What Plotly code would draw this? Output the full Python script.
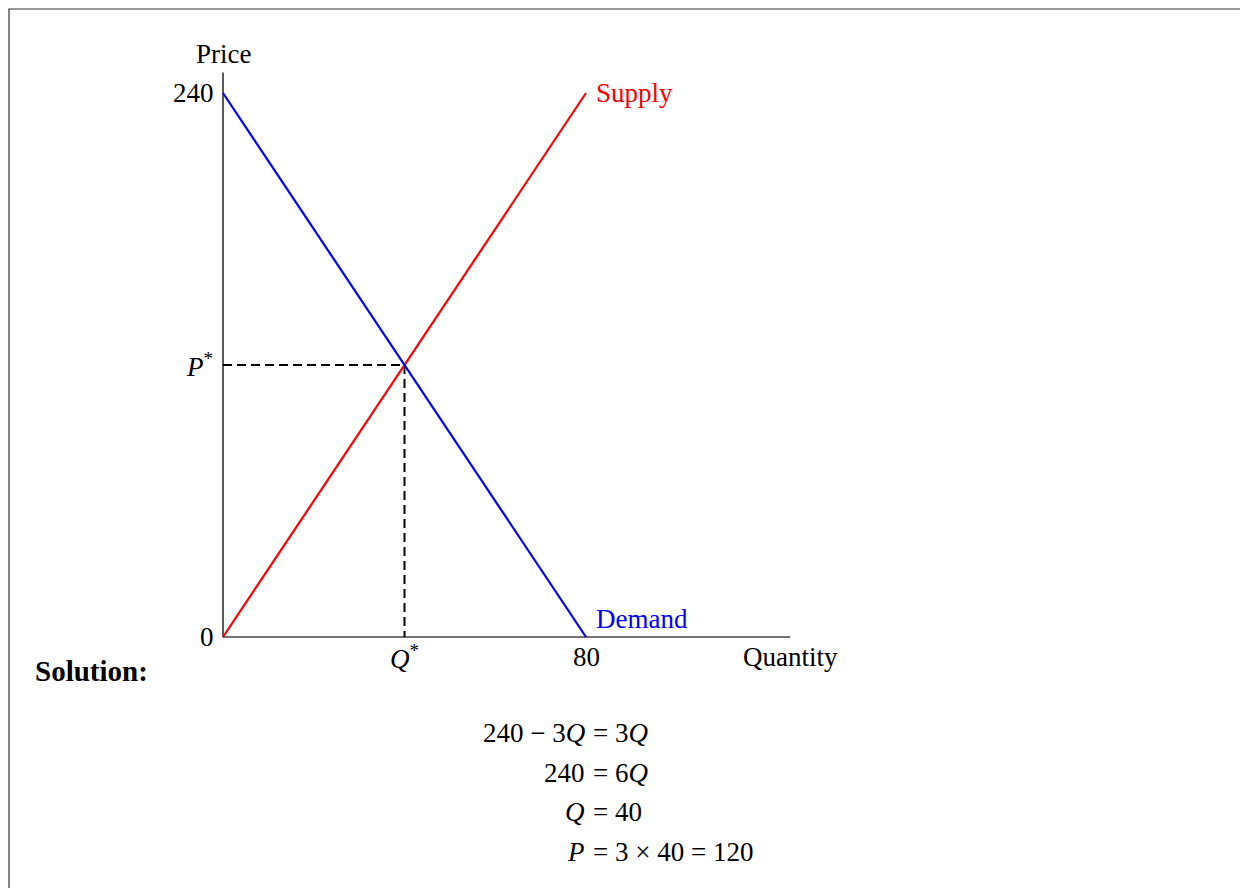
import plotly.graph_objects as go

# supply / demand lines
quantity = [0, 80]
supply_price = [0, 240]
demand_price = [240, 0]

# equilibrium
q_star = 40
p_star = 120

# axis extents
q_axis_max = 125
p_axis_max = 249

W, H = 1248, 888
OFF = 8  # the page body has an 8px margin, so shift everything up/left by that
# pixel of origin and scale
ox, oy = 223 - OFF, 637 - OFF
sx = 363 / 80.0
sy = 544 / 240.0

FONT = "Liberation Serif"
FS = 27

fig = go.Figure()

fig.add_trace(go.Scatter(x=[0, 0], y=[0, p_axis_max], mode="lines",
                         line=dict(color="black", width=1.3), hoverinfo="skip"))
fig.add_trace(go.Scatter(x=[0, q_axis_max], y=[0, 0], mode="lines",
                         line=dict(color="#444444", width=1.3), hoverinfo="skip"))

fig.add_trace(go.Scatter(x=[0, q_star], y=[p_star, p_star], mode="lines",
                         line=dict(color="black", width=2, dash="9px,5px"), hoverinfo="skip"))
fig.add_trace(go.Scatter(x=[q_star, q_star], y=[p_star, 0], mode="lines",
                         line=dict(color="black", width=2, dash="9px,5px"), hoverinfo="skip"))

fig.add_trace(go.Scatter(x=quantity, y=supply_price, mode="lines", name="Supply",
                         line=dict(color="red", width=2.2)))
fig.add_trace(go.Scatter(x=quantity, y=demand_price, mode="lines", name="Demand",
                         line=dict(color="blue", width=2.2)))


def ann(x, y, text, xanchor="center", color="black", xshift=0, yshift=0):
    fig.add_annotation(x=x, y=y, text=text, showarrow=False, xanchor=xanchor,
                       yanchor="middle", xshift=xshift, yshift=yshift,
                       font=dict(family=FONT, size=FS, color=color))


ann(0, p_axis_max, "Price", yshift=19)
ann(0, supply_price[1], "240", xanchor="right", xshift=-7)
ann(0, 0, "0", xanchor="right", xshift=-7)
ann(0, p_star, "<i>P</i><sup>*</sup>", xanchor="right", xshift=-8)
ann(q_star, 0, "<i>Q</i><sup>*</sup>", yshift=-20)
ann(quantity[1], 0, "80", yshift=-20)
ann(q_axis_max, 0, "Quantity", xanchor="center", xshift=0, yshift=-20)
ann(quantity[1], supply_price[1], "Supply", xanchor="left", color="red", xshift=8)
ann(quantity[1], demand_price[1], "Demand", xanchor="left", color="blue", xshift=8, yshift=18)


def px(x, y):
    return (x - OFF) / W, 1 - (y - OFF) / H


x, y = px(33, 671)
fig.add_annotation(x=x, y=y, xref="paper", yref="paper", text="<b>Solution:</b>",
                   showarrow=False, xanchor="left", yanchor="middle",
                   font=dict(family=FONT, size=29, color="black"))

eq_rows = [
    ("240 − 3<i>Q</i>", "= 3<i>Q</i>", 733),
    ("240", "= 6<i>Q</i>", 773),
    ("<i>Q</i>", "= 40", 812),
    ("<i>P</i>", "= 3 × 40 = 120", 852),
]
for lhs, rhs, yy in eq_rows:
    xl, yl = px(587, yy)
    xr, yr = px(591, yy)
    fig.add_annotation(x=xl, y=yl, xref="paper", yref="paper", text=lhs, showarrow=False,
                       xanchor="right", yanchor="middle",
                       font=dict(family=FONT, size=FS, color="black"))
    fig.add_annotation(x=xr, y=yr, xref="paper", yref="paper", text=rhs, showarrow=False,
                       xanchor="left", yanchor="middle",
                       font=dict(family=FONT, size=FS, color="black"))

# page frame
fx0, fy1 = px(9, 9)
fx1, _ = px(1247, 9)
fig.add_shape(type="rect", xref="paper", yref="paper",
              x0=fx0, x1=fx1, y0=-0.2, y1=fy1,
              line=dict(color="#333333", width=1.2))

fig.update_layout(
    width=W, height=H,
    margin=dict(l=0, r=0, t=0, b=0),
    paper_bgcolor="white", plot_bgcolor="white",
    showlegend=False,
    xaxis=dict(range=[-ox / sx, (W - ox) / sx], visible=False, fixedrange=True),
    yaxis=dict(range=[-(H - oy) / sy, oy / sy], visible=False, fixedrange=True),
)

fig.write_html("out.html")
